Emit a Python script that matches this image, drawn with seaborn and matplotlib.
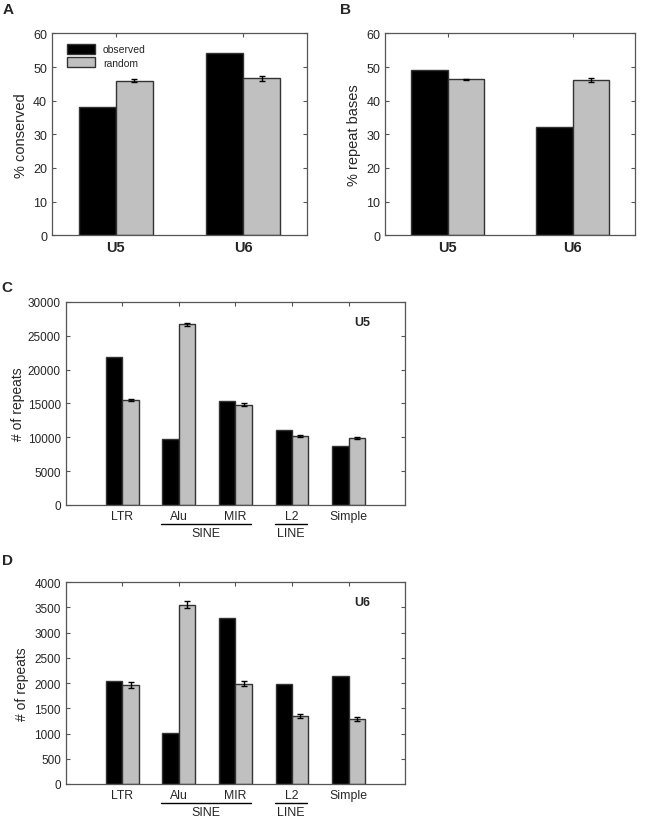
import numpy as np
import pandas as pd
import seaborn as sns
import matplotlib.pyplot as plt
import matplotlib.transforms as mtransforms

# data
snrna = ['U5', 'U6']
cons_obs = [38.0, 54.3]
cons_rand = [46.0, 46.6]
cons_err = [0.3, 0.8]
rep_obs = [49.2, 32.2]
rep_rand = [46.3, 46.1]
rep_err = [0.2, 0.5]

families = ['LTR', 'Alu', 'MIR', 'L2', 'Simple']
u5_obs = [21900, 9700, 15300, 11000, 8700]
u5_rand = [15500, 26700, 14800, 10150, 9950]
u5_err = [200, 200, 200, 150, 150]
u6_obs = [2050, 1010, 3300, 1990, 2140]
u6_rand = [1970, 3550, 1990, 1340, 1290]
u6_err = [60, 70, 45, 40, 40]

sns.set_style('ticks')
plt.rcParams['font.family'] = ['Liberation Sans', 'DejaVu Sans']

pal = {'observed': 'black', 'random': '#c0c0c0'}
spine_col = '#555555'


def long_df(cats, obs, rand):
    return pd.DataFrame({
        'cat': list(cats) * 2,
        'value': list(obs) + list(rand),
        'kind': ['observed'] * len(cats) + ['random'] * len(cats),
    })


def draw(ax, cats, obs, rand, err, ylim, yticks, ylabel, fs, xfs, bold_x,
         legend=False, pad=4):
    df = long_df(cats, obs, rand)
    sns.barplot(df, x='cat', y='value', hue='kind', palette=pal, width=0.58,
                edgecolor='#333333', linewidth=1, errorbar=None, saturation=1,
                legend=legend, ax=ax)
    # error bars on the random bars
    xs = [p.get_x() + p.get_width() / 2 for p in ax.containers[1]]
    ax.errorbar(xs, rand, yerr=err, fmt='none', ecolor='black', elinewidth=1,
                capsize=2.5, capthick=1)
    ax.set_ylim(*ylim)
    ax.set_yticks(yticks)
    ax.set_xlabel('')
    ax.set_ylabel(ylabel, fontsize=fs, labelpad=pad)
    ax.tick_params(direction='in', right=True, top=True, length=3,
                   color=spine_col, labelsize=fs - 1.5)
    for s in ax.spines.values():
        s.set_color(spine_col)
        s.set_linewidth(0.9)
    for t in ax.get_xticklabels():
        t.set_fontsize(xfs)
        if bold_x:
            t.set_fontweight('bold')


fig = plt.figure(figsize=(6.45, 8.2), dpi=100)

axA = fig.add_axes([0.0806, 0.712, 0.395, 0.246])
draw(axA, snrna, cons_obs, cons_rand, cons_err, (0, 60), range(0, 61, 10),
     '% conserved', 10.5, 10.5, True, legend=True)
axA.set_xlim(-0.5, 1.5)
leg = axA.legend(loc='upper left', frameon=False, fontsize=7.5, handlelength=2.6,
                 handleheight=1.1, borderaxespad=0.6, labelspacing=0.25,
                 bbox_to_anchor=(0.02, 1.0))

axB = fig.add_axes([0.597, 0.712, 0.388, 0.246])
draw(axB, snrna, rep_obs, rep_rand, rep_err, (0, 60), range(0, 61, 10),
     '% repeat bases', 10.5, 10.5, True)
axB.set_xlim(-0.5, 1.5)

axC = fig.add_axes([0.102, 0.383, 0.526, 0.2476])
draw(axC, families, u5_obs, u5_rand, u5_err, (0, 30000), range(0, 30001, 5000),
     '# of repeats', 10, 8.8, False, pad=2)
axC.set_xlim(-1, 5)

axD = fig.add_axes([0.102, 0.0427, 0.526, 0.246])
draw(axD, families, u6_obs, u6_rand, u6_err, (0, 4000), range(0, 4001, 500),
     '# of repeats', 10, 8.8, False, pad=4)
axD.set_xlim(-1, 5)

# U5 / U6 tag and SINE / LINE grouping under the family labels
for ax, tag in [(axC, 'U5'), (axD, 'U6')]:
    ax.text(0.875, 0.9, tag, transform=ax.transAxes, fontsize=9,
            fontweight='bold', ha='center', va='center')
    tr = mtransforms.blended_transform_factory(ax.transData, ax.transAxes)
    for lo, hi, name in [(families.index('Alu') - 0.32, families.index('MIR') + 0.28, 'SINE'),
                         (families.index('L2') - 0.3, families.index('L2') + 0.27, 'LINE')]:
        ax.plot([lo, hi], [-0.095, -0.095], color='black', lw=1, transform=tr,
                clip_on=False)
        ax.text((lo + hi) / 2, -0.14, name, transform=tr, fontsize=9,
                ha='center', va='center')

for x, y, s in [(0.012, 0.988, 'A'), (0.536, 0.988, 'B'),
                (0.011, 0.649, 'C'), (0.011, 0.316, 'D')]:
    fig.text(x, y, s, fontsize=11, fontweight='bold', ha='center', va='center')

fig.savefig('out.png', dpi=100)
